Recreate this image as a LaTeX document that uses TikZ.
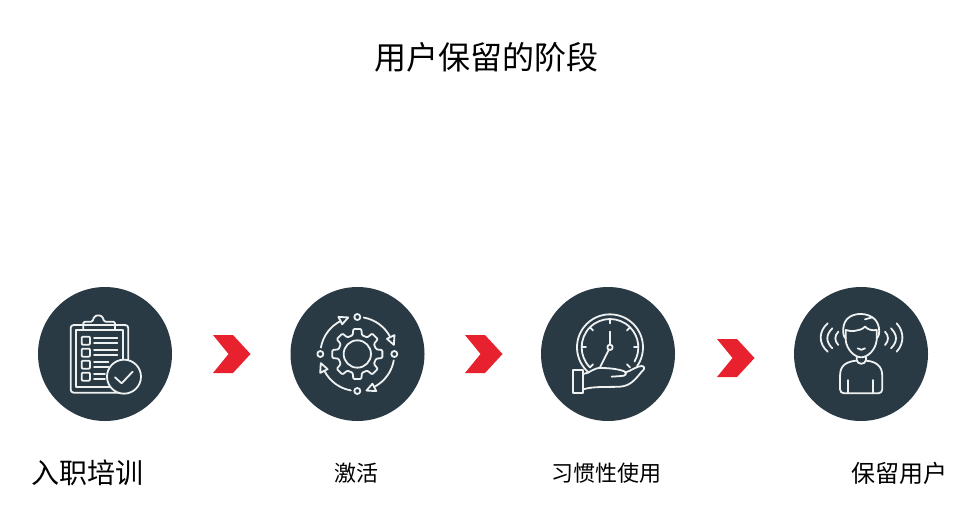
\documentclass[tikz,border=0pt]{standalone}
\usepackage{fontspec}
\setmainfont{Noto Sans CJK SC}
\definecolor{badgecolor}{HTML}{2A3A44}
\definecolor{linecolor}{HTML}{EEF1F2}
\definecolor{chevroncolor}{HTML}{E8212E}
\tikzset{
  badge/.style = {circle, fill = badgecolor, minimum size = 134, inner sep = 0},
  icon/.style = {x = 0.3333pt, y = -0.3333pt, draw = linecolor, line width = 1.8pt, line join = round, line cap = round},
  caption/.style = {inner sep = 0, text = black}
}
\begin{document}
\begin{tikzpicture}[x = 1pt, y = -1pt]
\useasboundingbox (0,0) rectangle (960,504);
\node[caption, font = \fontsize{32}{36}\selectfont] (title) at (486,57) {用户保留的阶段};
\node[badge] (onboard) at (105,354) {};
\node[badge] (activate) at (357.5,354) {};
\node[badge] (habit) at (608,354) {};
\node[badge] (retain) at (861,354) {};
\node[caption, font = \fontsize{28}{32}\selectfont] (onboardtext) at (87.5,473) {入职培训};
\node[caption, font = \fontsize{22}{26}\selectfont] (activatetext) at (356,473) {激活};
\node[caption, font = \fontsize{22}{26}\selectfont] (habittext) at (606,473) {习惯性使用};
\node[caption, font = \fontsize{24}{26}\selectfont] (retaintext) at (899.5,473) {保留用户};
\foreach \cx/\cy in {213/335, 465/335, 717/339} \fill [chevroncolor] (\cx,\cy) -- (\cx+20,\cy) -- (\cx+37.5,\cy+19) -- (\cx+20,\cy+38) -- (\cx,\cy+38) -- (\cx+15.5,\cy+19) -- cycle;
% clipboard
\begin{scope}[shift = {(20,270)}, icon]
\draw [rounded corners = 3pt] (152,165) rectangle (325,368);
\draw (168,180) rectangle (308,350);
\draw [rounded corners = 1.5pt] (190,178) -- (190,155) -- (218,155) -- (222,140) -- (235,135) -- (248,140) -- (252,155) -- (285,155) -- (285,178);
\foreach \ty/\tx in {200/292, 236/292, 272/265, 308/255} {
  \draw [rounded corners = 1pt] (185,\ty) rectangle (210,\ty+24);
  \draw (222,\ty+5) -- (\tx,\ty+5);
  \draw (222,\ty+18) -- (\tx,\ty+18);
}
\draw [fill = badgecolor] (312,320) circle [radius = 51];
\draw (285,322) -- (305,340) -- (338,305);
\end{scope}
% gear and arrows
\begin{scope}[shift = {(280,280)}, icon]
\begin{scope}[shift = {(232,222)}]
\draw (0,0) circle [radius = 41];
\draw [rounded corners = 1pt] (-14:58) \foreach \a in {0,45,...,315} { -- (\a-14:58) -- (\a-9:76) -- (\a+9:76) -- (\a+14:58) } -- cycle;
\foreach \a in {0,90,180,270} {
  \draw (\a:111) circle [radius = 9];
  \draw (\a+190:111) arc [start angle = \a+190, end angle = \a+243, radius = 111];
  \draw (\a+256:113) -- (\a+243:125) -- (\a+243:100) -- cycle;
}
\end{scope}
\end{scope}
% clock on a hand
\begin{scope}[shift = {(530,280)}, icon]
\begin{scope}[shift = {(240,202)}]
\draw (130:99) arc [start angle = 130, end angle = 395, radius = 99];
\draw (135:85) arc [start angle = 135, end angle = 390, radius = 85];
\foreach \a in {0,45,135,180,225,270,315} \draw (\a:85) -- (\a:72);
\draw (0,0) circle [radius = 8];
\draw (0,-8) -- (0,-47);
\draw (-4,8) -- (-30,60);
\end{scope}
\draw (128,270) rectangle (160,338);
\draw (160,282) .. controls (180,280) and (190,262) .. (215,264) .. controls (240,264) and (270,268) .. (285,275) .. controls (292,282) and (285,288) .. (275,288) -- (245,290);
\draw (285,278) .. controls (305,272) and (320,258) .. (335,258) .. controls (345,258) and (345,268) .. (335,275) .. controls (315,300) and (300,318) .. (270,320) .. controls (240,322) and (190,318) .. (160,328);
\end{scope}
% person with sound waves
\begin{scope}[shift = {(785,280)}, icon]
\draw (182,175) .. controls (172,170) and (168,125) .. (195,110) .. controls (215,98) and (245,100) .. (262,112) .. controls (285,125) and (288,165) .. (275,175);
\draw (182,150) .. controls (195,155) and (225,155) .. (240,140) .. controls (250,150) and (262,152) .. (275,150);
\draw (240,118) -- (262,112);
\draw (182,150) -- (182,180) .. controls (185,210) and (210,232) .. (228,232) .. controls (248,232) and (272,210) .. (275,180) -- (275,150);
\draw (218,205) .. controls (224,211) and (234,211) .. (240,205);
\draw (215,232) -- (215,240) .. controls (217,255) and (241,255) .. (243,240) -- (243,232);
\draw [rounded corners = 4pt] (215,242) .. controls (170,245) and (165,270) .. (165,300) -- (165,340) -- (292,340) -- (292,300) .. controls (292,270) and (285,245) .. (243,242);
\draw (190,300) -- (190,340);
\draw (265,300) -- (265,340);
\draw (128,130) .. controls (100,155) and (100,190) .. (128,215);
\draw (142,145) .. controls (122,165) and (122,185) .. (142,205);
\draw (160,155) .. controls (148,168) and (148,182) .. (160,195);
\draw (335,130) .. controls (358,155) and (358,190) .. (335,215);
\draw (318,145) .. controls (338,165) and (338,185) .. (318,205);
\draw (300,155) .. controls (312,168) and (312,182) .. (300,195);
\end{scope}
\end{tikzpicture}
\end{document}
